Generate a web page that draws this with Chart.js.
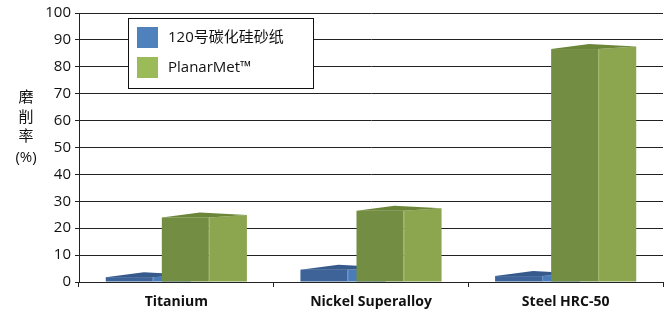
<!DOCTYPE html>
<html>
<head>
<meta charset="utf-8">
<script src="https://cdn.jsdelivr.net/npm/chart.js@4.4.1/dist/chart.umd.min.js"></script>
<style>
    html, body { margin: 0; padding: 0; background: #fff; }
    canvas { display: block; }
</style>
</head>
<body>
<canvas id="chart" width="668" height="318"></canvas>
<script>
// chart data
const categories = ["Titanium", "Nickel Superalloy", "Steel HRC-50"];
const seriesNames = ["120号碳化硅砂纸", "PlanarMet™"];
const siliconCarbide = [1.8, 4.6, 2.2];
const planarMet = [24, 26.5, 86.6];
const yTicks = [0, 10, 20, 30, 40, 50, 60, 70, 80, 90, 100];
const yTitle = ["磨", "削", "率", "(%)"];

// colours per series: front face, side face, top face, legend swatch
const palette = [
    { front: "#3d6398", side: "#4a7cba", top: "#365a8c", edge: "#6f95c8", swatch: "#4f81bd" },
    { front: "#738d42", side: "#8ca64f", top: "#6b8539", edge: "#a4bc72", swatch: "#9bbb59" }
];

const FONT = "'Open Sans', 'Noto Sans', 'Noto Sans CJK SC', sans-serif";
const AXIS = "#222";

// draws every bar as a little 3D box, using the bar element's scale positions
const boxPlugin = {
    id: "boxes",
    afterDatasetsDraw(chart) {
        const ctx = chart.ctx;
        chart.data.datasets.forEach((ds, di) => {
            const meta = chart.getDatasetMeta(di);
            const c = palette[di];
            meta.data.forEach((bar) => {
                const w = bar.width;
                const front = w * 47 / 56;
                const depth = w * 38 / 56;
                const left = bar.x - w / 2 - (front + depth - w) / 2;
                const top = bar.y;
                const base = bar.base;
                const rise1 = 5, rise2 = 2.5;

                ctx.save();
                // side face
                ctx.fillStyle = c.side;
                ctx.beginPath();
                ctx.moveTo(left + front, top);
                ctx.lineTo(left + front + depth, top - rise2);
                ctx.lineTo(left + front + depth, base);
                ctx.lineTo(left + front, base);
                ctx.closePath();
                ctx.fill();
                // front face
                ctx.fillStyle = c.front;
                ctx.fillRect(left, top, front, base - top);
                // top face
                ctx.fillStyle = c.top;
                ctx.beginPath();
                ctx.moveTo(left, top);
                ctx.lineTo(left + depth, top - rise1);
                ctx.lineTo(left + front + depth, top - rise2);
                ctx.lineTo(left + front, top);
                ctx.closePath();
                ctx.fill();
                // light edge between front and side
                ctx.strokeStyle = c.edge;
                ctx.lineWidth = 1;
                ctx.beginPath();
                ctx.moveTo(left + front + 0.5, top);
                ctx.lineTo(left + front + 0.5, base);
                ctx.stroke();
                ctx.restore();
            });
        });
    },
    afterDraw(chart) {
        const ctx = chart.ctx;
        ctx.save();
        // legend box
        ctx.fillStyle = "#fff";
        ctx.fillRect(128.5, 18.5, 185, 70);
        ctx.strokeStyle = "#111";
        ctx.lineWidth = 1;
        ctx.strokeRect(128.5, 18.5, 185, 70);
        ctx.textAlign = "left";
        ctx.textBaseline = "middle";
        ctx.font = "15px " + FONT;
        seriesNames.forEach((name, i) => {
            const y = 27 + i * 30;
            ctx.fillStyle = palette[i].swatch;
            ctx.fillRect(137, y, 21, 21);
            ctx.fillStyle = "#111";
            ctx.fillText(name, 168, y + 11);
        });
        // vertical y-axis title
        ctx.textAlign = "center";
        ctx.font = "15px " + FONT;
        const ys = [98, 118, 137, 158];
        yTitle.forEach((t, i) => ctx.fillText(t, 26, ys[i]));
        ctx.restore();
    }
};

new Chart(document.getElementById("chart"), {
    type: "bar",
    data: {
        labels: categories,
        datasets: [
            { label: seriesNames[0], data: siliconCarbide, backgroundColor: "rgba(0,0,0,0)", borderWidth: 0 },
            { label: seriesNames[1], data: planarMet, backgroundColor: "rgba(0,0,0,0)", borderWidth: 0 }
        ]
    },
    options: {
        responsive: false,
        animation: false,
        categoryPercentage: 0.576,
        barPercentage: 1,
        layout: { padding: { left: 0, right: 5, top: 8, bottom: 0 } },
        plugins: {
            legend: { display: false },
            tooltip: { enabled: false }
        },
        scales: {
            y: {
                min: 0,
                max: 100,
                afterBuildTicks: (s) => { s.ticks = yTicks.map(v => ({ value: v })); },
                ticks: { font: { family: FONT, size: 15 }, color: "#111", padding: 4 },
                grid: { color: AXIS, lineWidth: 1, tickLength: 4 },
                border: { color: AXIS },
                afterFit: (s) => { s.width = 79; }
            },
            x: {
                offset: true,
                grid: { drawOnChartArea: false, color: AXIS, tickLength: 5 },
                border: { color: AXIS },
                ticks: { font: { family: FONT, size: 14, weight: "bold" }, color: "#111", padding: 7 },
                afterFit: (s) => { s.height = 36; }
            }
        }
    },
    plugins: [boxPlugin]
});
</script>
</body>
</html>
